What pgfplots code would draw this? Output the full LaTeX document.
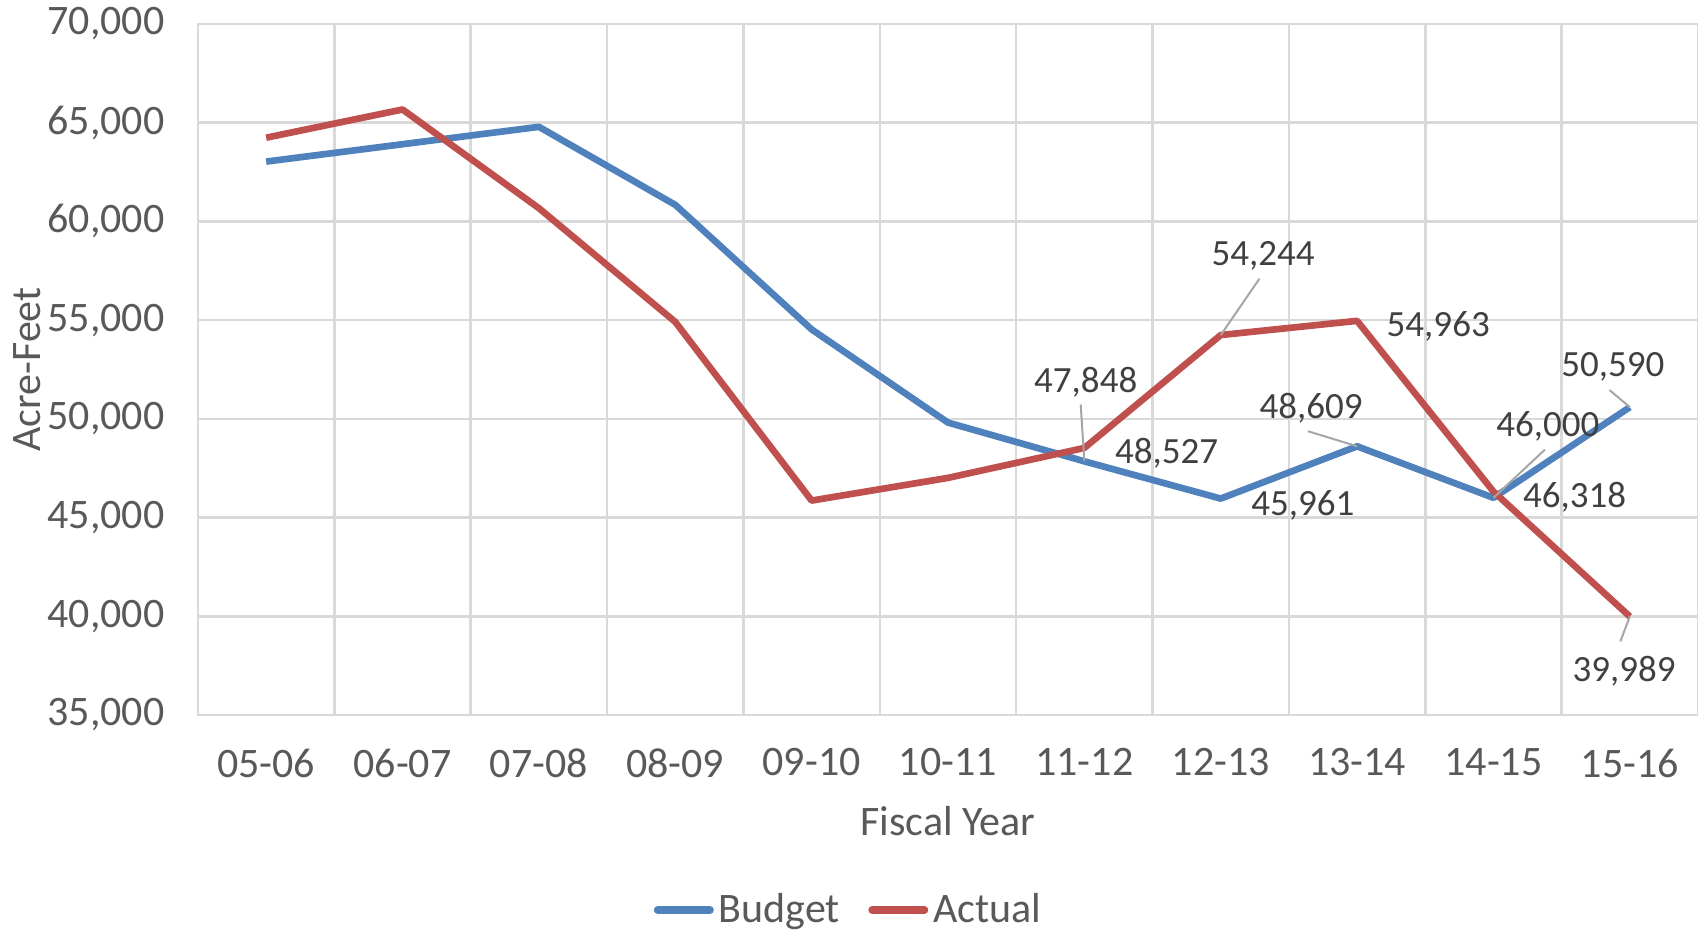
\documentclass[border=0pt]{standalone}
\usepackage{fontspec}
\setmainfont{Carlito}
\usepackage{pgfplots}
\pgfplotsset{compat=1.18}
\definecolor{budget}{HTML}{4F81BD}
\definecolor{actual}{HTML}{C0504D}
\definecolor{gridc}{HTML}{D9D9D9}
\definecolor{txt}{HTML}{595959}
\definecolor{lbl}{HTML}{404040}
\definecolor{leader}{HTML}{A6A6A6}
\begin{document}
\begin{tikzpicture}
\path[use as bounding box] (-59.4pt,-66pt) rectangle (450pt,214.5pt);
\begin{axis}[
  at={(0,0)}, anchor=south west,
  scale only axis, width=450pt, height=207.3pt,
  xmin=-0.5, xmax=10.5, ymin=35000, ymax=70000,
  xtick={0,1,...,10},
  xticklabels={05-06,06-07,07-08,08-09,09-10,10-11,11-12,12-13,13-14,14-15,15-16},
  minor xtick={-0.5,0.5,...,10.5},
  ytick={35000,40000,...,70000},
  xminorgrids, ymajorgrids,
  major tick length=0pt, minor tick length=0pt,
  axis line style={draw=gridc, line width=0.75pt},
  grid style={draw=gridc, line width=0.75pt},
  minor grid style={draw=gridc, line width=0.75pt},
  scaled y ticks=false,
  yticklabel={\pgfmathprintnumber[fixed,precision=0,1000 sep={,},assume math mode=true]{\tick}},
  tick label style={font=\fontsize{12.6}{15}\selectfont, text=txt},
  yticklabel style={anchor=east, inner sep=0pt, xshift=-9.9pt},
  xticklabel style={anchor=north, inner sep=0pt, yshift=-9.9pt},
  xlabel={Fiscal Year},
  ylabel={Acre-Feet},
  label style={font=\fontsize{12.6}{15}\selectfont, text=txt},
  xlabel style={at={(axis description cs:0.5,-0.154)}, anchor=center, inner sep=0pt},
  ylabel style={at={(axis description cs:-0.114,0.5)}, anchor=center, inner sep=0pt},
  clip=false,
  legend style={at={(0.4347,-0.2822)}, anchor=center, draw=none, fill=none,
    font=\fontsize{12.6}{15}\selectfont, text=txt,
    /tikz/every even column/.append style={column sep=7pt},
    inner sep=0pt, nodes={inner sep=1.5pt}},
  legend columns=-1,
  legend image code/.code={\draw[#1, line cap=round, line width=2.4pt] (0pt,0pt) -- (15.6pt,0pt);},
]
\addplot[budget, line width=2pt, line join=round] coordinates {
  (0,63030) (1,63910) (2,64790) (3,60840) (4,54530) (5,49810)
  (6,47848) (7,45961) (8,48609) (9,46000) (10,50590)};
\addlegendentry{Budget}
\addplot[actual, line width=2pt, line join=round] coordinates {
  (0,64240) (1,65670) (2,60670) (3,54910) (4,45860) (5,47010)
  (6,48527) (7,54244) (8,54963) (9,46318) (10,39989)};
\addlegendentry{Actual}
% leader lines
\draw[leader, line width=0.6pt] (axis cs:5.973,50728) -- (axis cs:6,47848);
\draw[leader, line width=0.6pt] (axis cs:7.284,57097) -- (axis cs:7,54244);
\draw[leader, line width=0.6pt] (axis cs:7.640,49373) -- (axis cs:8,48609);
\draw[leader, line width=0.6pt] (axis cs:9.852,51457) -- (axis cs:10,50590);
\draw[leader, line width=0.6pt] (axis cs:9.378,48445) -- (axis cs:9,46000);
\draw[leader, line width=0.6pt] (axis cs:9.931,38730) -- (axis cs:10,39989);
% data labels
\begin{scope}[every node/.style={font=\fontsize{11.1}{13}\selectfont, text=lbl, inner sep=0pt, anchor=center}]
\node at (axis cs:6.01,51850) {47,848};
\node at (axis cs:6.603,48270) {48,527};
\node at (axis cs:7.310,58270) {54,244};
\node at (axis cs:7.602,45620) {45,961};
\node at (axis cs:7.662,50540) {48,609};
\node at (axis cs:8.595,54700) {54,963};
\node at (axis cs:9.876,52630) {50,590};
\node at (axis cs:9.399,49600) {46,000};
\node at (axis cs:9.595,46030) {46,318};
\node at (axis cs:9.958,37220) {39,989};
\end{scope}
\end{axis}
\end{tikzpicture}
\end{document}
